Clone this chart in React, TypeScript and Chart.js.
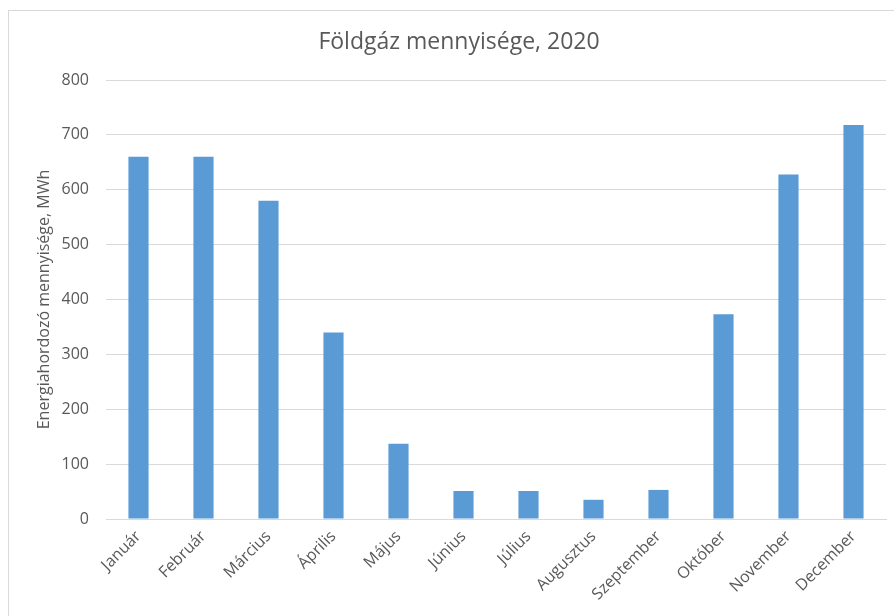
import React, { useEffect, useRef } from "react";
import { Chart, registerables } from "chart.js";

Chart.register(...registerables);

const chartTitle = "Földgáz mennyisége, 2020";
const yAxisTitle = "Energiahordozó mennyisége, MWh";
const months = [
  "Január", "Február", "Március", "Április", "Május", "Június",
  "Július", "Augusztus", "Szeptember", "Október", "November", "December",
];
const gasValues = [660, 660, 580, 340, 137, 51, 51, 35, 53, 373, 628, 718];
const yMin = 0;
const yMax = 800;
const yStep = 100;

const FONT = "'Open Sans', 'Noto Sans', sans-serif";
const TEXT = "#595959";
const GRID = "#d9d9d9";

export default function App() {
  const ref = useRef<HTMLCanvasElement | null>(null);
  useEffect(() => {
    if (!ref.current) return;
    const chart = new Chart(ref.current, {
      type: "bar",
      data: {
        labels: months,
        datasets: [
          {
            data: gasValues,
            backgroundColor: "#5b9bd5",
            borderWidth: 0,
            barPercentage: 0.31,
            categoryPercentage: 1,
          },
        ],
      },
      options: {
        animation: false,
        responsive: false,
        devicePixelRatio: 1,
        layout: { padding: 0 },
        plugins: {
          legend: { display: false },
          tooltip: { enabled: false },
          title: {
            display: true,
            text: chartTitle,
            color: TEXT,
            font: { family: FONT, size: 23, weight: "normal" },
            padding: { top: 18, bottom: 23.4 },
          },
        },
        scales: {
          x: {
            grid: { display: false, drawTicks: false },
            border: { display: true, color: GRID, width: 1 },
            ticks: {
              color: TEXT,
              font: { family: FONT, size: 16 },
              minRotation: 45,
              maxRotation: 45,
              padding: 8,
            },
            afterFit: (s: any) => {
              s.height = 98;
            },
          },
          y: {
            min: yMin,
            max: yMax,
            grid: { color: GRID, drawTicks: false, lineWidth: 1 },
            border: { display: false },
            ticks: {
              stepSize: yStep,
              color: TEXT,
              font: { family: FONT, size: 16 },
              padding: 17,
            },
            title: {
              display: true,
              text: yAxisTitle,
              color: TEXT,
              font: { family: FONT, size: 16 },
              padding: { top: 26, bottom: 0 },
            },
            afterFit: (s: any) => {
              s.width = 97;
            },
          },
          spacer: {
            type: "linear",
            position: "right",
            display: true,
            grid: { display: false, drawTicks: false },
            border: { display: false },
            ticks: { display: false },
            afterFit: (s: any) => {
              s.width = 23;
            },
          },
        },
      },
    });
    return () => chart.destroy();
  }, []);
  return (
    <div
      style={{
        position: "fixed",
        left: 8,
        top: 10,
        width: 886,
        height: 606,
        overflow: "hidden",
        borderLeft: `1px solid ${GRID}`,
        borderTop: `1px solid ${GRID}`,
        background: "#fff",
      }}
    >
      <canvas ref={ref} width={900} height={606} style={{ display: "block" }} />
    </div>
  );
}
